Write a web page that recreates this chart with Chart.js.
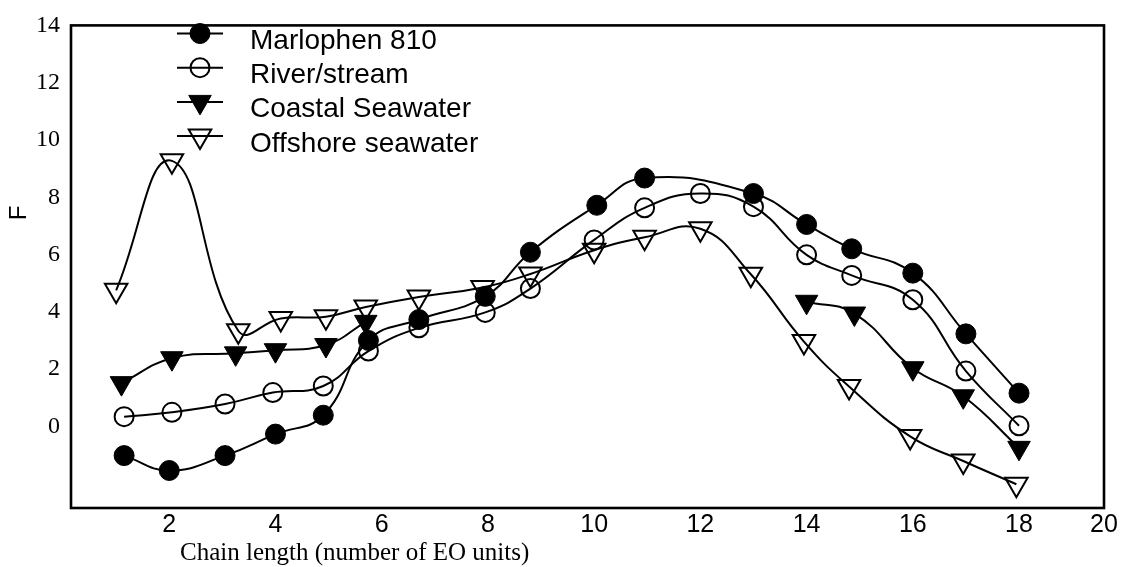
<!DOCTYPE html>
<html>
<head>
<meta charset="utf-8">
<script src="https://cdn.jsdelivr.net/npm/chart.js@4.4.0/dist/chart.umd.min.js"></script>
<style>
  html, body { margin: 0; padding: 0; background: #fff; }
</style>
</head>
<body>
<canvas id="grafico" width="1129" height="567"></canvas>
<script>
// valores (F x comprimento da cadeia)
var marlophenX = [1.15, 2.0, 3.05, 4.0, 4.9, 5.75, 6.7, 7.95, 8.8, 10.05, 10.95, 13.0, 14.0, 14.85, 16.0, 17.0, 18.0];
var marlophenY = [-1.02, -1.54, -1.02, -0.27, 0.39, 3.0, 3.73, 4.54, 6.08, 7.72, 8.67, 8.13, 7.05, 6.2, 5.35, 3.23, 1.16];

var riverX = [1.15, 2.05, 3.05, 3.95, 4.9, 5.75, 6.7, 7.95, 8.8, 10.0, 10.95, 12.0, 13.0, 14.0, 14.85, 16.0, 17.0, 18.0];
var riverY = [0.34, 0.49, 0.78, 1.18, 1.41, 2.63, 3.44, 3.98, 4.81, 6.51, 7.63, 8.13, 7.67, 5.99, 5.27, 4.42, 1.93, 0.02];

// sem dados entre 6 e 14 (null = quebra na linha)
var coastalX = [1.1, 2.05, 3.25, 4.0, 4.95, 5.7, 10.0, 14.0, 14.9, 16.0, 16.95, 18.0];
var coastalY = [1.51, 2.38, 2.55, 2.66, 2.84, 3.65, null, 4.35, 3.94, 2.03, 1.05, -0.75];

var offshoreX = [1.0, 2.05, 3.3, 4.1, 4.95, 5.7, 6.7, 7.9, 8.8, 10.0, 10.95, 12.0, 12.95, 13.95, 14.8, 15.95, 16.95, 17.95];
var offshoreY = [4.75, 9.27, 3.34, 3.77, 3.83, 4.17, 4.52, 4.85, 5.32, 6.15, 6.6, 6.9, 5.31, 2.96, 1.39, -0.35, -1.21, -2.02];

var seriesNomes = ["Marlophen 810", "River/stream", "Coastal Seawater", "Offshore seawater"];
var xTicks = [2, 4, 6, 8, 10, 12, 14, 16, 18, 20];
var yTicks = [0, 2, 4, 6, 8, 10, 12, 14];
var tituloX = "Chain length (number of EO units)";
var tituloY = "F";

function pontos(xs, ys) {
  return xs.map(function (x, i) {
    return { x: x, y: ys[i] };
  });
}

var xMin = 0.15, xMax = 19.6;

/* linha preta + marcador */
function serie(nome, dados, estilo, raio, cheio, rotacao) {
  return {
    label: nome,
    data: dados,
    borderColor: "#000",
    borderWidth: 2,
    tension: 0.45,
    fill: false,
    spanGaps: false,
    pointStyle: estilo,
    pointRadius: raio,
    pointRotation: rotacao || 0,
    pointBackgroundColor: cheio ? "#000" : "rgba(0,0,0,0)",
    pointBorderColor: "#000",
    pointBorderWidth: cheio ? 1 : 2,
  };
}

var datasets = [
  serie(seriesNomes[0], pontos(marlophenX, marlophenY), "circle", 10, true),
  serie(seriesNomes[1], pontos(riverX, riverY), "circle", 9.5, false),
  serie(seriesNomes[2], pontos(coastalX, coastalY), "triangle", 13, true, 180),
  serie(seriesNomes[3], pontos(offshoreX, offshoreY), "triangle", 13, false, 180),
];

// moldura em volta da area do grafico
var moldura = {
  id: "moldura",
  afterDatasetsDraw: function (chart) {
    var a = chart.chartArea;
    var ctx = chart.ctx;
    ctx.save();
    ctx.strokeStyle = "#000";
    ctx.lineWidth = 2.6;
    ctx.strokeRect(a.left, a.top, a.right - a.left, a.bottom - a.top);
    ctx.restore();
  },
};

// titulos dos eixos (fora do centro, como na figura)
var titulos = {
  id: "titulos",
  afterDraw: function (chart) {
    var ctx = chart.ctx;
    ctx.save();
    ctx.fillStyle = "#000";
    ctx.font = "25px 'Liberation Serif', 'Times New Roman', serif";
    ctx.textAlign = "left";
    ctx.textBaseline = "alphabetic";
    ctx.fillText(tituloX, 180, 560);

    ctx.translate(19, 213);
    ctx.rotate(-Math.PI / 2);
    ctx.font = "24px 'Liberation Sans', Arial, sans-serif";
    ctx.textAlign = "center";
    ctx.textBaseline = "middle";
    ctx.fillText(tituloY, 0, 0);
    ctx.restore();
  },
};

// legenda dentro do grafico
var legenda = {
  id: "legenda",
  afterDraw: function (chart) {
    var ctx = chart.ctx;
    var cx = 200, y0 = 33.5, passo = 34.2;
    ctx.save();
    chart.data.datasets.forEach(function (ds, i) {
      var y = y0 + i * passo;
      ctx.strokeStyle = "#000";
      ctx.lineWidth = 2;
      ctx.beginPath();
      ctx.moveTo(cx - 23, y);
      ctx.lineTo(cx + 23, y);
      ctx.stroke();

      ctx.fillStyle = ds.pointBackgroundColor;
      ctx.strokeStyle = ds.pointBorderColor;
      ctx.lineWidth = ds.pointBorderWidth;
      Chart.helpers.drawPoint(ctx, {
        pointStyle: ds.pointStyle,
        rotation: ds.pointRotation,
        radius: ds.pointRadius,
        borderWidth: ds.pointBorderWidth,
      }, cx, y);

      ctx.fillStyle = "#000";
      ctx.font = "28px 'Liberation Sans', Arial, sans-serif";
      ctx.textAlign = "left";
      ctx.textBaseline = "alphabetic";
      ctx.fillText(ds.label, 250, y + 15.5);
    });
    ctx.restore();
  },
};

new Chart(document.getElementById("grafico"), {
  type: "line",
  data: { datasets: datasets },
  options: {
    responsive: false,
    animation: false,
    events: [],
    layout: { padding: { top: 22, right: 25, left: 0, bottom: 0 } },
    plugins: {
      legend: { display: false },
      tooltip: { enabled: false },
    },
    scales: {
      x: {
        type: "linear",
        min: xMin,
        max: xMax,
        grid: { display: false, drawTicks: false },
        border: { display: false },
        afterBuildTicks: function (scale) {
          scale.ticks = xTicks.map(function (v) {
            return { value: Math.min(v, xMax) };
          });
        },
        afterFit: function (scale) {
          scale.height = 59;
        },
        ticks: {
          autoSkip: false,
          maxRotation: 0,
          padding: 2,
          color: "#000",
          font: { family: "'Liberation Sans', Arial, sans-serif", size: 25 },
          callback: function (value) {
            return value >= xMax ? "20" : String(value);
          },
        },
      },
      y: {
        min: -2.85,
        max: 14,
        grid: { display: false, drawTicks: false },
        border: { display: false },
        afterBuildTicks: function (scale) {
          scale.ticks = yTicks.map(function (v) {
            return { value: v };
          });
        },
        afterFit: function (scale) {
          scale.width = 71;
        },
        ticks: {
          padding: 11,
          color: "#000",
          font: { family: "'Liberation Serif', 'Times New Roman', serif", size: 24 },
        },
      },
    },
  },
  plugins: [moldura, titulos, legenda],
});
</script>
</body>
</html>
